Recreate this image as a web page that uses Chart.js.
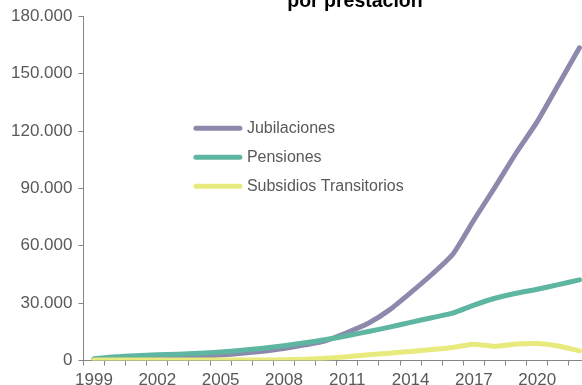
<!DOCTYPE html>
<html>
<head>
<meta charset="utf-8">
<script src="https://cdn.jsdelivr.net/npm/chart.js@4"></script>
<style>
  html, body { margin: 0; padding: 0; background: #fff; overflow: hidden; width: 582px; height: 385px; }
  #wrap { position: absolute; left: 0; top: 0; width: 590px; height: 396px; }
</style>
</head>
<body>
<div id="wrap"><canvas id="chart"></canvas></div>
<script>
// years on the x axis, only every third one gets a label
const years = ['1999', '2000', '2001', '2002', '2003', '2004', '2005', '2006', '2007', '2008', '2009', '2010',
               '2011', '2012', '2013', '2014', '2015', '2016', '2017', '2018', '2019', '2020', '2021', '2022'];
const shownYears = ['1999', '2002', '2005', '2008', '2011', '2014', '2017', '2020'];

const jubilaciones = [500, 900, 1200, 1500, 1900, 2300, 2900, 3800, 4900, 6300, 8200, 10500,
                      14700, 19500, 26500, 35500, 45000, 55600, 73500, 90700, 108500, 124900, 144200, 163500];
const pensiones = [1000, 2000, 2600, 3000, 3300, 3800, 4500, 5400, 6500, 7800, 9300, 11000,
                   13000, 15200, 17500, 20000, 22400, 24800, 29000, 32600, 35200, 37300, 39700, 42200];
const subsidios = [300, 300, 300, 300, 300, 300, 300, 300, 300, 400, 700, 1200,
                   2000, 3000, 3900, 4800, 5800, 6900, 8600, 7400, 8700, 8900, 7600, 5100];

const seriesNames = ['Jubilaciones', 'Pensiones', 'Subsidios Transitorios'];
const seriesColors = ['#8c89ac', '#5db5a2', '#e8ea7d'];
const titleText = 'por prestación';   // second line of the title, the first one is cut off

const fontFamily = '"Liberation Sans", Arial, sans-serif';
const textColor = '#595959';
const axisColor = '#868686';

function fmt(v) {
    return String(v).replace(/\B(?=(\d{3})+(?!\d))/g, '.');
}

// title is off-centre and cut at the top, so it is drawn by hand
const cutTitle = {
    id: 'cutTitle',
    afterDraw(chart, args, opts) {
        const { ctx, chartArea } = chart;
        ctx.save();
        ctx.font = 'bold 19.5px ' + fontFamily;
        ctx.fillStyle = '#000';
        ctx.textAlign = 'center';
        ctx.textBaseline = 'alphabetic';
        ctx.fillText(opts.text, chartArea.left + opts.x * chartArea.width, chartArea.top + opts.dy);
        ctx.restore();
    }
};

// legend sits inside the plot, so draw it ourselves
const insideLegend = {
    id: 'insideLegend',
    afterDatasetsDraw(chart, args, opts) {
        const { ctx, chartArea } = chart;
        const x0 = chartArea.left + opts.left * chartArea.width;
        let y = chartArea.top + opts.top * chartArea.height;
        ctx.save();
        ctx.font = '16px ' + fontFamily;
        ctx.textBaseline = 'middle';
        chart.data.datasets.forEach(ds => {
            ctx.strokeStyle = ds.borderColor;
            ctx.lineWidth = 5;
            ctx.lineCap = 'round';
            ctx.beginPath();
            ctx.moveTo(x0, y);
            ctx.lineTo(x0 + 44, y);
            ctx.stroke();
            ctx.fillStyle = textColor;
            ctx.fillText(ds.label, x0 + 51, y);
            y += opts.gap;
        });
        ctx.restore();
    }
};

const seriesData = [jubilaciones, pensiones, subsidios];
const datasets = seriesData.map((d, i) => ({
    label: seriesNames[i],
    data: d,
    borderColor: seriesColors[i],
    backgroundColor: seriesColors[i],
    borderWidth: 5,
    pointRadius: 0,
    tension: 0.2,
    fill: false,
    borderCapStyle: 'round',
    borderJoinStyle: 'round',
    order: 3 - i
}));

const ctx = document.getElementById('chart').getContext('2d');
new Chart(ctx, {
    type: 'line',
    data: { labels: years, datasets: datasets },
    plugins: [insideLegend, cutTitle],
    options: {
        responsive: true,
        maintainAspectRatio: false,
        animation: false,
        layout: { padding: { left: 5, right: 0, top: 7, bottom: 0 } },
        plugins: {
            legend: { display: false },
            tooltip: { enabled: false },
            title: { display: false },
            cutTitle: { text: titleText, x: 0.536, dy: -9 },
            insideLegend: { left: 0.222, top: 0.325, gap: 29 }
        },
        scales: {
            x: {
                type: 'category',
                offset: true,
                grid: { drawOnChartArea: false, drawTicks: true, tickLength: 5, offset: true, color: axisColor },
                border: { color: axisColor, width: 1 },
                ticks: {
                    autoSkip: false,
                    maxRotation: 0,
                    padding: 5,
                    color: textColor,
                    font: { family: fontFamily, size: 17 },
                    callback: function (v) {
                        const lab = this.getLabelForValue(v);
                        return shownYears.includes(lab) ? lab : '';
                    }
                }
            },
            y: {
                min: 0,
                max: 180000,
                grid: { drawOnChartArea: false, tickLength: 5, color: axisColor },
                border: { color: axisColor, width: 1 },
                ticks: {
                    stepSize: 30000,
                    padding: 6,
                    color: textColor,
                    font: { family: fontFamily, size: 17 },
                    callback: v => fmt(v)
                }
            }
        }
    }
});
</script>
</body>
</html>
